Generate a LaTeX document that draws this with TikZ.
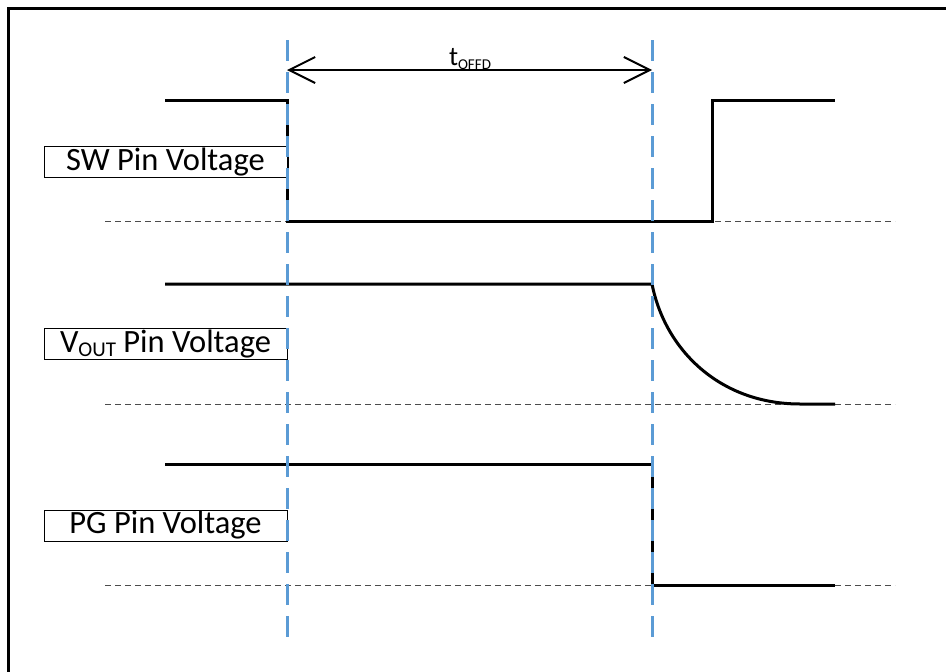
\documentclass[tikz,border=0pt]{standalone}
\usepackage{fontspec}
\setmainfont{Carlito}
\usetikzlibrary{arrows.meta}
\definecolor{guideblue}{HTML}{5B9BD5}
\begin{document}
\begin{tikzpicture}[x=1pt, y=-1pt,
  wave/.style={line width=3pt, line join=miter},
  zeroline/.style={line width=1pt, black!70, dash pattern=on 6pt off 4pt},
  guide/.style={line width=3pt, guideblue, dash pattern=on 21pt off 11pt},
  lbl/.style={draw, line width=0.8pt, fill=white, minimum width=243pt, minimum height=31pt, inner sep=0pt, font=\fontsize{32.5}{38}\selectfont},
  barb/.style={line width=2pt, {Straight Barb[length=26pt,width=26pt]}-{Straight Barb[length=26pt,width=26pt]}}]
	\useasboundingbox (0,0) rectangle (946,672);
	\clip (0,0) rectangle (946,672);
	\draw[line width=3pt] (8,720) -- (8,8) -- (990,8);
	% zero levels
	\draw[zeroline] (105,221) -- (895,221);
	\draw[zeroline] (105,404) -- (895,404);
	\draw[zeroline] (105,585) -- (895,585);
	% waveforms
	\draw[wave] (165,100) -- (287,100) -- (287,221) -- (712,221) -- (712,100) -- (835,100);
	\draw[wave] (165,284) -- (652,284) .. controls (665,350) and (720,404) .. (800,404) -- (835,404);
	\draw[wave] (165,464) -- (652,464) -- (652,585) -- (835,585);
	% labels
	\node[lbl] (sw) at (165.5,162) {SW Pin Voltage};
	\node[lbl] (vout) at (165.5,344) {V\raisebox{-4pt}{\fontsize{21}{21}\selectfont OUT} Pin Voltage};
	\node[lbl] (pg) at (165.5,525.5) {PG Pin Voltage};
	% time markers
	\coordinate (m1) at (287,70);
	\coordinate (m2) at (652,70);
	\draw[guide] (287,40) -- (287,637);
	\draw[guide] (652,40) -- (652,637);
	\draw[barb] (m1) -- (m2);
	\node[anchor=base, inner sep=0pt] (toffd) at (470,65) {\fontsize{27}{27}\selectfont t\raisebox{-4pt}{\fontsize{15}{15}\selectfont OFFD}};
\end{tikzpicture}
\end{document}
